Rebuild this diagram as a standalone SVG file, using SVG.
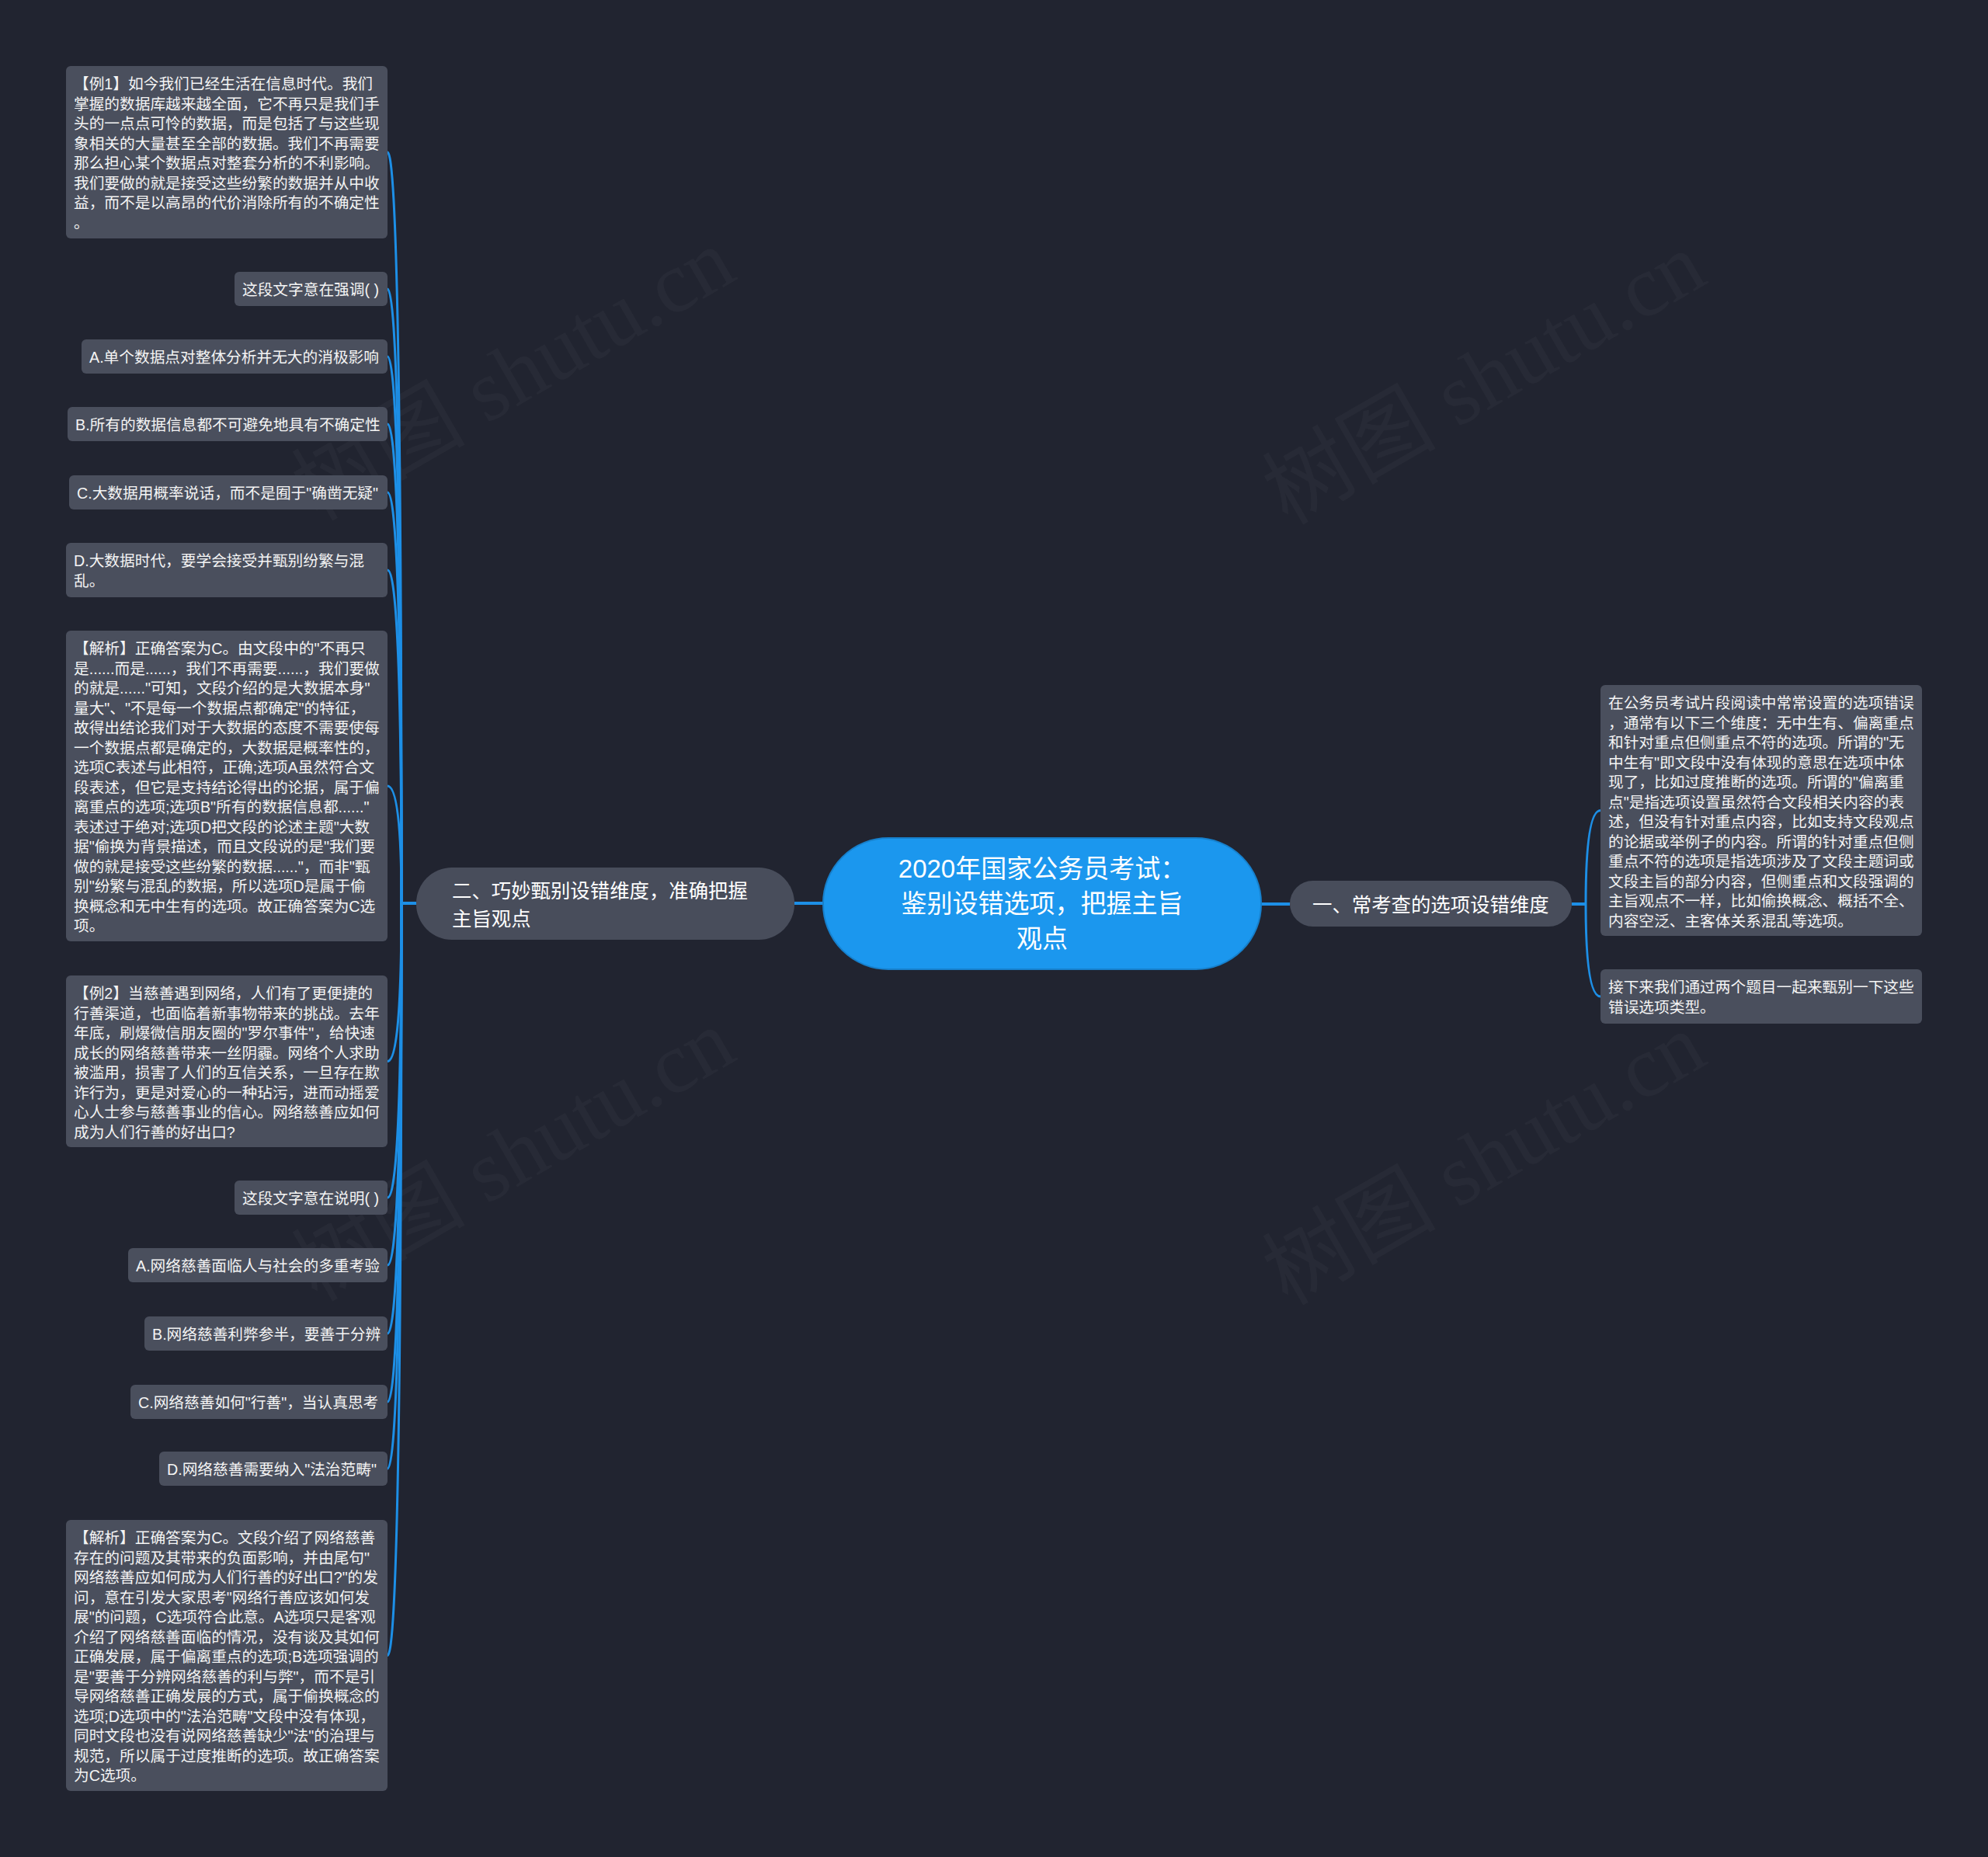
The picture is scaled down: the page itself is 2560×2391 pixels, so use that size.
<svg xmlns="http://www.w3.org/2000/svg" width="2560" height="2391" viewBox="0 0 2560 2391">
<style>
.bg{fill:#212430}
.wm{font-family:"Liberation Serif","Noto Sans CJK SC",serif;font-size:112px;fill:#ffffff;fill-opacity:0.03;text-anchor:middle}
.leaf rect{fill:#4a4f5d}
.leaf text{font-family:"Liberation Sans","Noto Sans CJK SC",sans-serif;font-size:19.7px;fill:#f4f4f4}
.branch rect{fill:#484d5b}
.branch text{font-family:"Liberation Sans","Noto Sans CJK SC",sans-serif;font-size:25.4px;fill:#ffffff}
.root rect{fill:#1b97ee;stroke:#1780cc;stroke-width:2}
.root text{font-family:"Liberation Sans","Noto Sans CJK SC",sans-serif;font-size:33px;fill:#ffffff;text-anchor:middle}
.links path{fill:none;stroke:#1d8fe6;stroke-width:3}
.links path.main{stroke-width:4}
</style>
<rect class="bg" x="0" y="0" width="2560" height="2391"/>
<g id="watermarks">
<text class="wm" transform="translate(680,515) rotate(-30)">树图 shutu.cn</text>
<text class="wm" transform="translate(1930,520) rotate(-30)">树图 shutu.cn</text>
<text class="wm" transform="translate(680,1520) rotate(-30)">树图 shutu.cn</text>
<text class="wm" transform="translate(1930,1525) rotate(-30)">树图 shutu.cn</text>
</g>
<g id="connectors" class="links">
<path class="main" d="M1060 1163 L1023 1163"/>
<path class="main" d="M536 1163 L517 1163"/>
<path d="M517 1163 Q517 196 499 196"/>
<path d="M517 1163 Q517 372 499 372"/>
<path d="M517 1163 Q517 459 499 459"/>
<path d="M517 1163 Q517 546 499 546"/>
<path d="M517 1163 Q517 634 499 634"/>
<path d="M517 1163 Q517 734 499 734"/>
<path d="M517 1163 Q517 1012 499 1012"/>
<path d="M517 1163 Q517 1366.5 499 1366.5"/>
<path d="M517 1163 Q517 1542 499 1542"/>
<path d="M517 1163 Q517 1629 499 1629"/>
<path d="M517 1163 Q517 1717 499 1717"/>
<path d="M517 1163 Q517 1805 499 1805"/>
<path d="M517 1163 Q517 1891 499 1891"/>
<path d="M517 1163 Q517 2131.5 499 2131.5"/>
<path class="main" d="M1624 1164 L1661 1164"/>
<path class="main" d="M2024 1164 L2042 1164"/>
<path d="M2042 1164 Q2042 1043.5 2061 1043.5"/>
<path d="M2042 1164 Q2042 1283 2061 1283"/>
</g>
<g id="root" class="root">
<rect x="1060" y="1079" width="564" height="169" rx="84" ry="84"/>
<text x="1342" y="1130">2020年国家公务员考试：</text>
<text x="1342" y="1175">鉴别设错选项，把握主旨</text>
<text x="1342" y="1220">观点</text>
</g>
<g id="branch-left" class="branch">
<rect x="536" y="1117" width="487" height="93" rx="46" ry="46"/>
<text x="582" y="1156">二、巧妙甄别设错维度，准确把握</text>
<text x="582" y="1192">主旨观点</text>
</g>
<g id="branch-right" class="branch">
<rect x="1661" y="1134" width="363" height="59" rx="29.5" ry="29.5"/>
<text x="1690" y="1173.5">一、常考查的选项设错维度</text>
</g>
<g id="leaf-r1" class="leaf">
<rect x="2061" y="882" width="414" height="323" rx="6"/>
<text x="2071" y="912">在公务员考试片段阅读中常常设置的选项错误</text>
<text x="2071" y="937.5">，通常有以下三个维度：无中生有、偏离重点</text>
<text x="2071" y="963">和针对重点但侧重点不符的选项。所谓的"无</text>
<text x="2071" y="988.5">中生有"即文段中没有体现的意思在选项中体</text>
<text x="2071" y="1014">现了，比如过度推断的选项。所谓的"偏离重</text>
<text x="2071" y="1039.5">点"是指选项设置虽然符合文段相关内容的表</text>
<text x="2071" y="1065">述，但没有针对重点内容，比如支持文段观点</text>
<text x="2071" y="1090.5">的论据或举例子的内容。所谓的针对重点但侧</text>
<text x="2071" y="1116">重点不符的选项是指选项涉及了文段主题词或</text>
<text x="2071" y="1141.5">文段主旨的部分内容，但侧重点和文段强调的</text>
<text x="2071" y="1167">主旨观点不一样，比如偷换概念、概括不全、</text>
<text x="2071" y="1192.5">内容空泛、主客体关系混乱等选项。</text>
</g>
<g id="leaf-r2" class="leaf">
<rect x="2061" y="1248" width="414" height="70" rx="6"/>
<text x="2071" y="1278">接下来我们通过两个题目一起来甄别一下这些</text>
<text x="2071" y="1303.5">错误选项类型。</text>
</g>
<g id="leaf-l1" class="leaf">
<rect x="85" y="85" width="414" height="222" rx="6"/>
<text x="95" y="115">【例1】如今我们已经生活在信息时代。我们</text>
<text x="95" y="140.5">掌握的数据库越来越全面，它不再只是我们手</text>
<text x="95" y="166">头的一点点可怜的数据，而是包括了与这些现</text>
<text x="95" y="191.5">象相关的大量甚至全部的数据。我们不再需要</text>
<text x="95" y="217">那么担心某个数据点对整套分析的不利影响。</text>
<text x="95" y="242.5">我们要做的就是接受这些纷繁的数据并从中收</text>
<text x="95" y="268">益，而不是以高昂的代价消除所有的不确定性</text>
<text x="95" y="293.5">。</text>
</g>
<g id="leaf-l2" class="leaf">
<rect x="302" y="350" width="197" height="44" rx="6"/>
<text x="312" y="379.5">这段文字意在强调( )</text>
</g>
<g id="leaf-l3" class="leaf">
<rect x="105" y="437" width="394" height="44" rx="6"/>
<text x="115" y="466.5">A.单个数据点对整体分析并无大的消极影响</text>
</g>
<g id="leaf-l4" class="leaf">
<rect x="87" y="524" width="412" height="44" rx="6"/>
<text x="97" y="553.5">B.所有的数据信息都不可避免地具有不确定性</text>
</g>
<g id="leaf-l5" class="leaf">
<rect x="89" y="612" width="410" height="44" rx="6"/>
<text x="99" y="641.5">C.大数据用概率说话，而不是囿于"确凿无疑"</text>
</g>
<g id="leaf-l6" class="leaf">
<rect x="85" y="699" width="414" height="70" rx="6"/>
<text x="95" y="729">D.大数据时代，要学会接受并甄别纷繁与混</text>
<text x="95" y="754.5">乱。</text>
</g>
<g id="leaf-l7" class="leaf">
<rect x="85" y="812" width="414" height="400" rx="6"/>
<text x="95" y="842">【解析】正确答案为C。由文段中的"不再只</text>
<text x="95" y="867.5">是......而是......，我们不再需要......，我们要做</text>
<text x="95" y="893">的就是......"可知，文段介绍的是大数据本身"</text>
<text x="95" y="918.5">量大"、"不是每一个数据点都确定"的特征，</text>
<text x="95" y="944">故得出结论我们对于大数据的态度不需要使每</text>
<text x="95" y="969.5">一个数据点都是确定的，大数据是概率性的，</text>
<text x="95" y="995">选项C表述与此相符，正确;选项A虽然符合文</text>
<text x="95" y="1020.5">段表述，但它是支持结论得出的论据，属于偏</text>
<text x="95" y="1046">离重点的选项;选项B"所有的数据信息都......"</text>
<text x="95" y="1071.5">表述过于绝对;选项D把文段的论述主题"大数</text>
<text x="95" y="1097">据"偷换为背景描述，而且文段说的是"我们要</text>
<text x="95" y="1122.5">做的就是接受这些纷繁的数据......"，而非"甄</text>
<text x="95" y="1148">别"纷繁与混乱的数据，所以选项D是属于偷</text>
<text x="95" y="1173.5">换概念和无中生有的选项。故正确答案为C选</text>
<text x="95" y="1199">项。</text>
</g>
<g id="leaf-l8" class="leaf">
<rect x="85" y="1256" width="414" height="221" rx="6"/>
<text x="95" y="1286">【例2】当慈善遇到网络，人们有了更便捷的</text>
<text x="95" y="1311.5">行善渠道，也面临着新事物带来的挑战。去年</text>
<text x="95" y="1337">年底，刷爆微信朋友圈的"罗尔事件"，给快速</text>
<text x="95" y="1362.5">成长的网络慈善带来一丝阴霾。网络个人求助</text>
<text x="95" y="1388">被滥用，损害了人们的互信关系，一旦存在欺</text>
<text x="95" y="1413.5">诈行为，更是对爱心的一种玷污，进而动摇爱</text>
<text x="95" y="1439">心人士参与慈善事业的信心。网络慈善应如何</text>
<text x="95" y="1464.5">成为人们行善的好出口?</text>
</g>
<g id="leaf-l9" class="leaf">
<rect x="302" y="1520" width="197" height="44" rx="6"/>
<text x="312" y="1549.5">这段文字意在说明( )</text>
</g>
<g id="leaf-l10" class="leaf">
<rect x="165" y="1607" width="334" height="44" rx="6"/>
<text x="175" y="1636.5">A.网络慈善面临人与社会的多重考验</text>
</g>
<g id="leaf-l11" class="leaf">
<rect x="186" y="1695" width="313" height="44" rx="6"/>
<text x="196" y="1724.5">B.网络慈善利弊参半，要善于分辨</text>
</g>
<g id="leaf-l12" class="leaf">
<rect x="168" y="1783" width="331" height="44" rx="6"/>
<text x="178" y="1812.5">C.网络慈善如何"行善"，当认真思考</text>
</g>
<g id="leaf-l13" class="leaf">
<rect x="205" y="1869" width="294" height="44" rx="6"/>
<text x="215" y="1898.5">D.网络慈善需要纳入"法治范畴"</text>
</g>
<g id="leaf-l14" class="leaf">
<rect x="85" y="1957" width="414" height="349" rx="6"/>
<text x="95" y="1987">【解析】正确答案为C。文段介绍了网络慈善</text>
<text x="95" y="2012.5">存在的问题及其带来的负面影响，并由尾句"</text>
<text x="95" y="2038">网络慈善应如何成为人们行善的好出口?"的发</text>
<text x="95" y="2063.5">问，意在引发大家思考"网络行善应该如何发</text>
<text x="95" y="2089">展"的问题，C选项符合此意。A选项只是客观</text>
<text x="95" y="2114.5">介绍了网络慈善面临的情况，没有谈及其如何</text>
<text x="95" y="2140">正确发展，属于偏离重点的选项;B选项强调的</text>
<text x="95" y="2165.5">是"要善于分辨网络慈善的利与弊"，而不是引</text>
<text x="95" y="2191">导网络慈善正确发展的方式，属于偷换概念的</text>
<text x="95" y="2216.5">选项;D选项中的"法治范畴"文段中没有体现，</text>
<text x="95" y="2242">同时文段也没有说网络慈善缺少"法"的治理与</text>
<text x="95" y="2267.5">规范，所以属于过度推断的选项。故正确答案</text>
<text x="95" y="2293">为C选项。</text>
</g>
</svg>
